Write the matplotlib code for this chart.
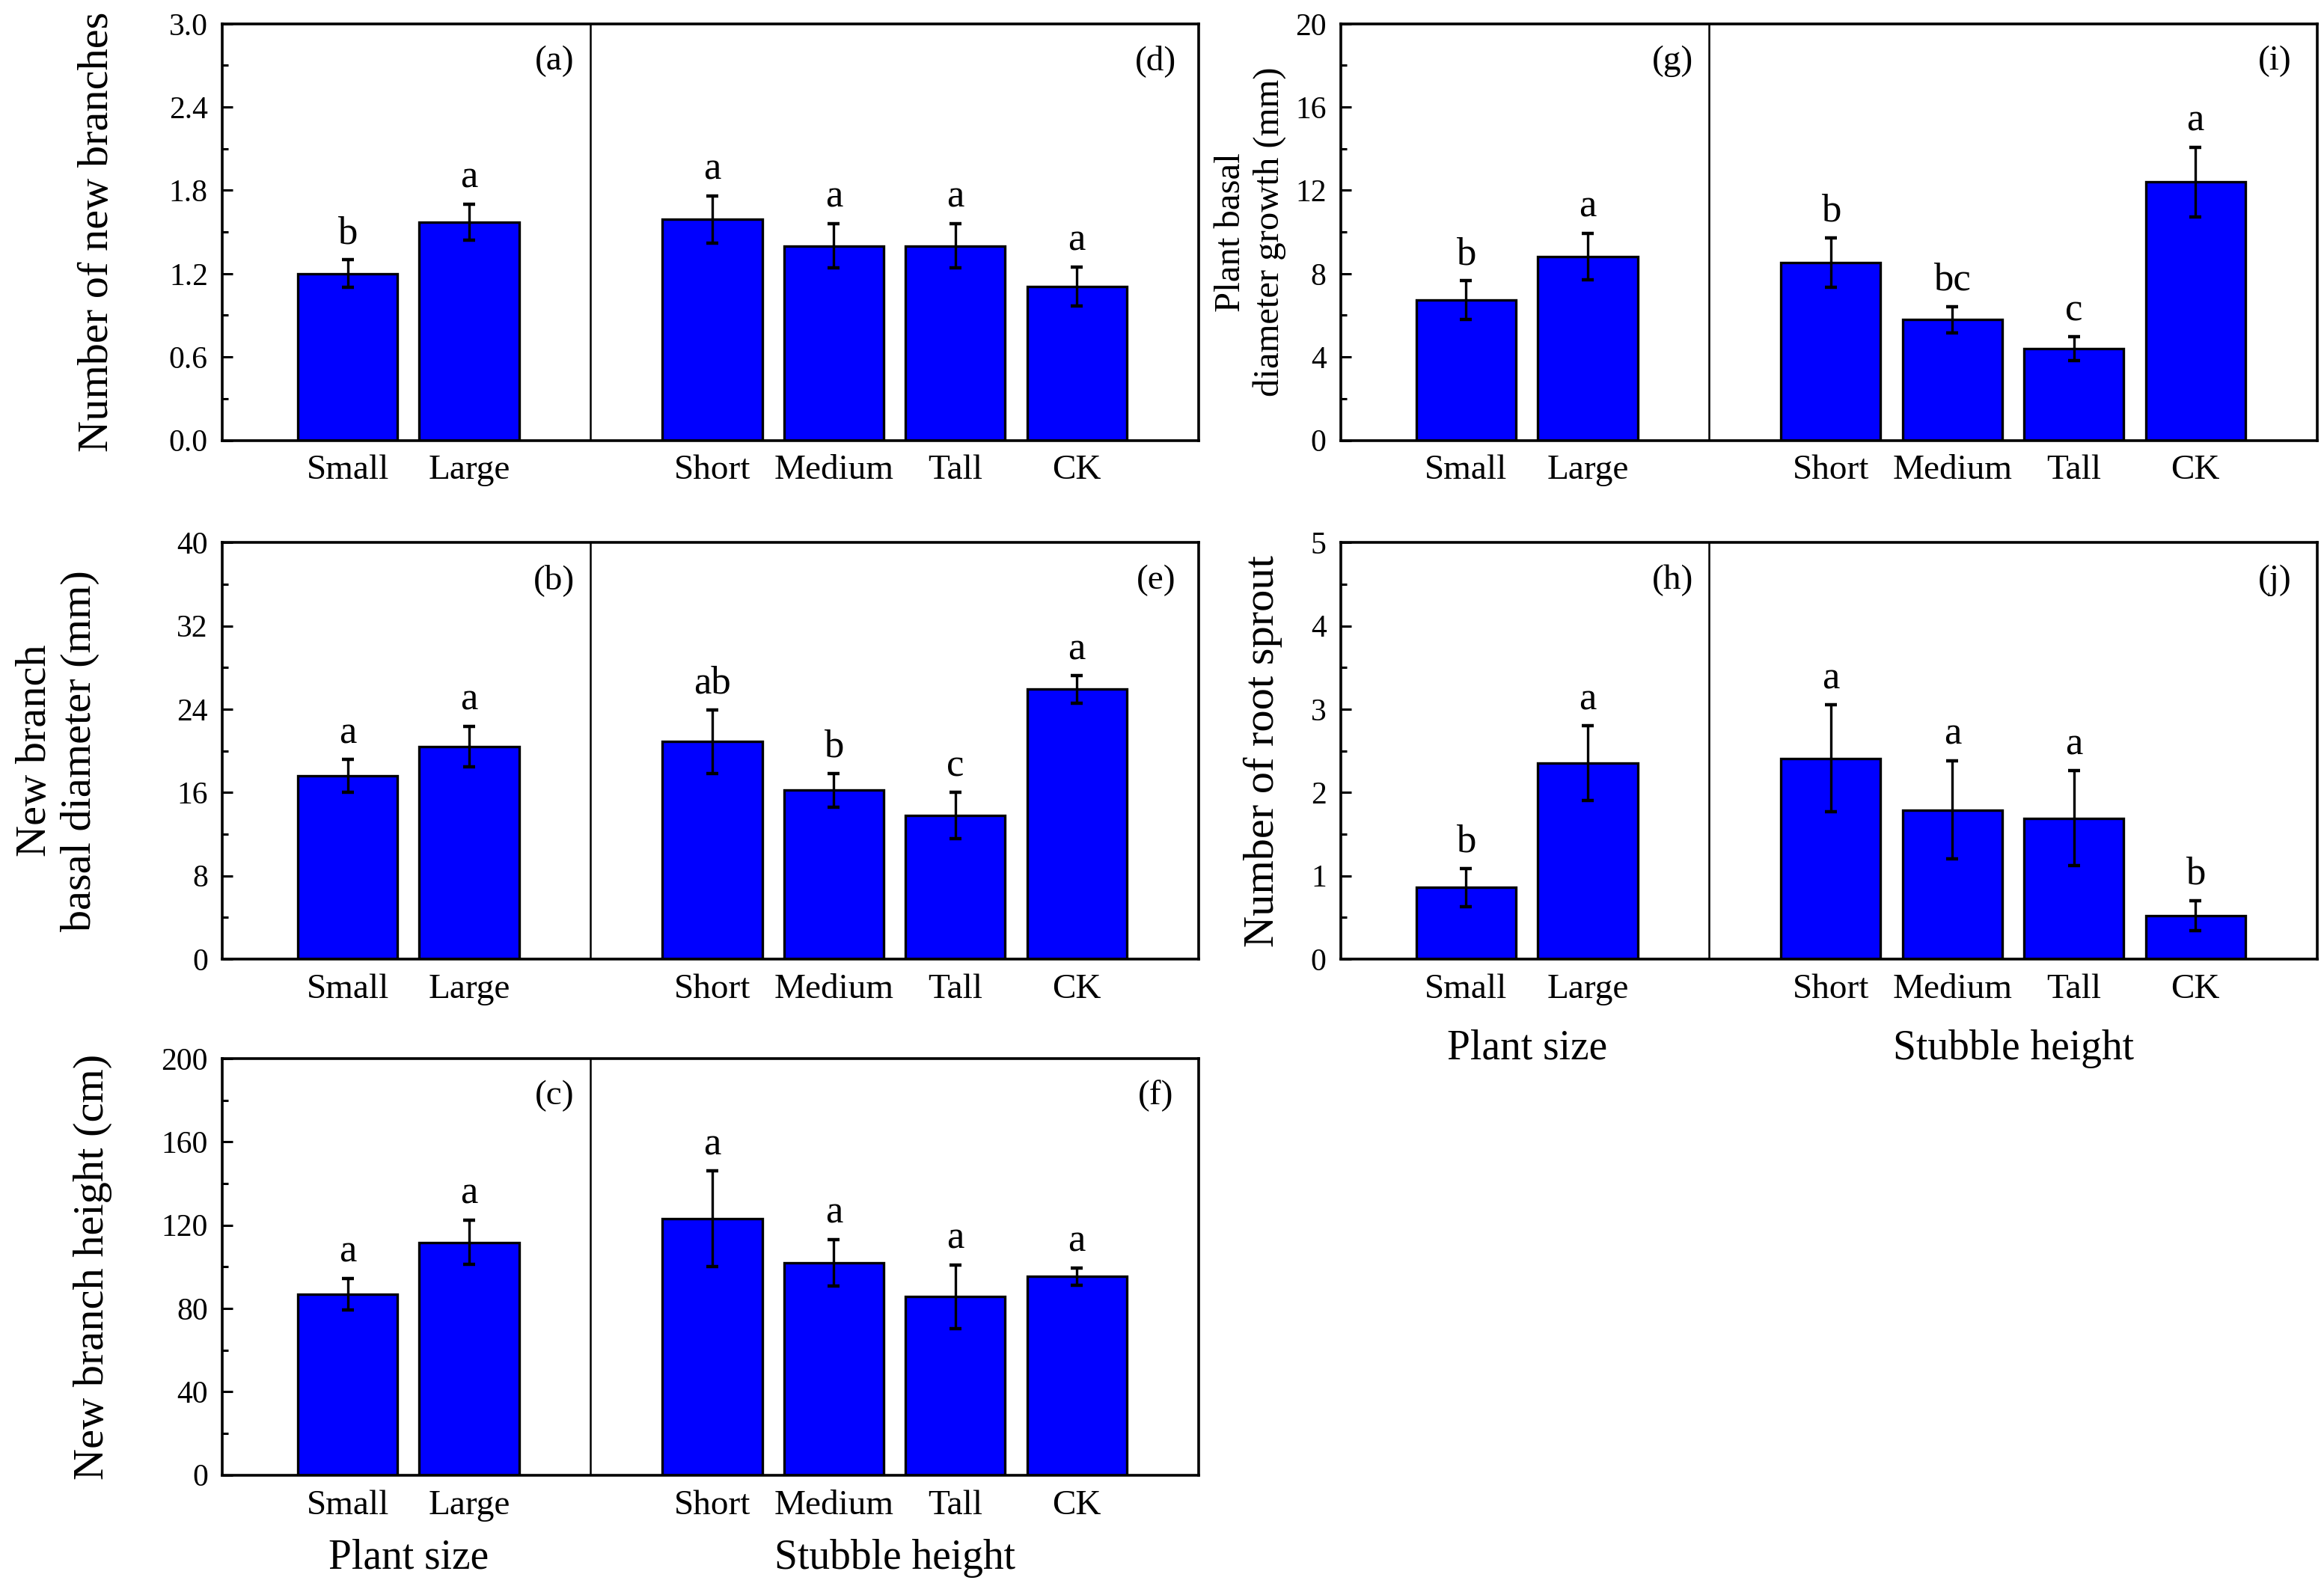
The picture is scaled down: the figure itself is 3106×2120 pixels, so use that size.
import numpy as np
import matplotlib.pyplot as plt
from matplotlib.ticker import MultipleLocator, FormatStrFormatter

plt.rcParams['font.family'] = ['Liberation Serif', 'DejaVu Serif']

size_cats = ['Small', 'Large']
stub_cats = ['Short', 'Medium', 'Tall', 'CK']

# (a)/(d) number of new branches
nb_size = [1.20, 1.57]
nb_size_err = [0.10, 0.13]
nb_size_sig = ['b', 'a']
nb_stub = [1.59, 1.40, 1.40, 1.11]
nb_stub_err = [0.17, 0.16, 0.16, 0.14]
nb_stub_sig = ['a', 'a', 'a', 'a']

# (b)/(e) new branch basal diameter (mm)
bd_size = [17.6, 20.4]
bd_size_err = [1.55, 1.95]
bd_size_sig = ['a', 'a']
bd_stub = [20.9, 16.2, 13.8, 25.9]
bd_stub_err = [3.05, 1.65, 2.2, 1.3]
bd_stub_sig = ['ab', 'b', 'c', 'a']

# (c)/(f) new branch height (cm)
bh_size = [86.8, 111.7]
bh_size_err = [7.7, 10.7]
bh_size_sig = ['a', 'a']
bh_stub = [123.0, 102.0, 85.6, 95.3]
bh_stub_err = [23.0, 11.2, 15.3, 4.2]
bh_stub_sig = ['a', 'a', 'a', 'a']

# (g)/(i) plant basal diameter growth (mm)
dg_size = [6.74, 8.82]
dg_size_err = [0.92, 1.13]
dg_size_sig = ['b', 'a']
dg_stub = [8.54, 5.79, 4.40, 12.40]
dg_stub_err = [1.18, 0.64, 0.56, 1.67]
dg_stub_sig = ['b', 'bc', 'c', 'a']

# (h)/(j) number of root sprout
rs_size = [0.86, 2.35]
rs_size_err = [0.23, 0.45]
rs_size_sig = ['b', 'a']
rs_stub = [2.41, 1.79, 1.69, 0.52]
rs_stub_err = [0.64, 0.59, 0.57, 0.18]
rs_stub_sig = ['a', 'a', 'a', 'b']

fig = plt.figure(figsize=(15.53, 10.6), dpi=200)

x_size = np.arange(len(size_cats))
x_stub = np.arange(len(stub_cats)) + 3


def drawPanel(rect, sv, se, ss, tv, te, ts, ymax, ystep, ylabel, ylx, tags,
              ylsize=21, fmt=None, xlabels=None):
    ax = fig.add_axes(rect)
    ekw = dict(ecolor='k', elinewidth=1.2, capsize=3, capthick=1.6)
    ax.bar(x_size, sv, 0.82, yerr=se, color='#0000ff', edgecolor='k', linewidth=1.2, error_kw=ekw)
    ax.bar(x_stub, tv, 0.82, yerr=te, color='#0000ff', edgecolor='k', linewidth=1.2, error_kw=ekw)
    for x, v, e, s in zip(list(x_size) + list(x_stub), sv + tv, se + te, ss + ts):
        ax.annotate(s, (x, v + e), xytext=(0, 4), textcoords='offset points',
                    ha='center', va='bottom', fontsize=19)
    ax.axvline(2, color='k', lw=0.9)
    ax.set_xlim(-1.03, 7.0)
    ax.set_ylim(0, ymax)
    ax.set_xticks(list(x_size) + list(x_stub))
    ax.set_xticklabels(size_cats + stub_cats)
    ax.tick_params(axis='x', length=0, pad=7, labelsize=17)
    ax.yaxis.set_major_locator(MultipleLocator(ystep))
    ax.yaxis.set_minor_locator(MultipleLocator(ystep / 2))
    if fmt:
        ax.yaxis.set_major_formatter(FormatStrFormatter(fmt))
    ax.tick_params(axis='y', which='major', direction='in', length=5, width=1.1, labelsize=15, pad=7)
    ax.tick_params(axis='y', which='minor', direction='in', length=3, width=1.1)
    for sp in ax.spines.values():
        sp.set_linewidth(1.3)
    ax.set_ylabel(ylabel, fontsize=ylsize, va='center')
    ax.yaxis.set_label_coords(ylx, 0.5)
    ax.text(1.7, 0.91, tags[0], transform=ax.get_xaxis_transform(), ha='center', va='center', fontsize=17)
    ax.text(6.65, 0.91, tags[1], transform=ax.get_xaxis_transform(), ha='center', va='center', fontsize=17)
    if xlabels:
        ax.text(0.5, xlabels, 'Plant size', transform=ax.get_xaxis_transform(), ha='center', va='center', fontsize=20)
        ax.text(4.5, xlabels, 'Stubble height', transform=ax.get_xaxis_transform(), ha='center', va='center', fontsize=20)
    return ax


lx, rx, w, h = 0.0957, 0.577, 0.420, 0.2626
rows = [0.7224, 0.3953, 0.070]

drawPanel([lx, rows[0], w, h], nb_size, nb_size_err, nb_size_sig, nb_stub, nb_stub_err, nb_stub_sig,
          3.0, 0.6, 'Number of new branches', -0.128, ['(a)', '(d)'], fmt='%.1f')
drawPanel([lx, rows[1], w, h], bd_size, bd_size_err, bd_size_sig, bd_stub, bd_stub_err, bd_stub_sig,
          40, 8, 'New branch\nbasal diameter (mm)', -0.169, ['(b)', '(e)'])
drawPanel([lx, rows[2], w, h], bh_size, bh_size_err, bh_size_sig, bh_stub, bh_stub_err, bh_stub_sig,
          200, 40, 'New branch height (cm)', -0.133, ['(c)', '(f)'], xlabels=-0.2)
drawPanel([rx, rows[0], w, h], dg_size, dg_size_err, dg_size_sig, dg_stub, dg_stub_err, dg_stub_sig,
          20, 4, 'Plant basal\ndiameter growth (mm)', -0.093, ['(g)', '(i)'], ylsize=17.5)
drawPanel([rx, rows[1], w, h], rs_size, rs_size_err, rs_size_sig, rs_stub, rs_stub_err, rs_stub_sig,
          5, 1, 'Number of root sprout', -0.08, ['(h)', '(j)'], xlabels=-0.215)

plt.savefig('out.png', dpi=200)
